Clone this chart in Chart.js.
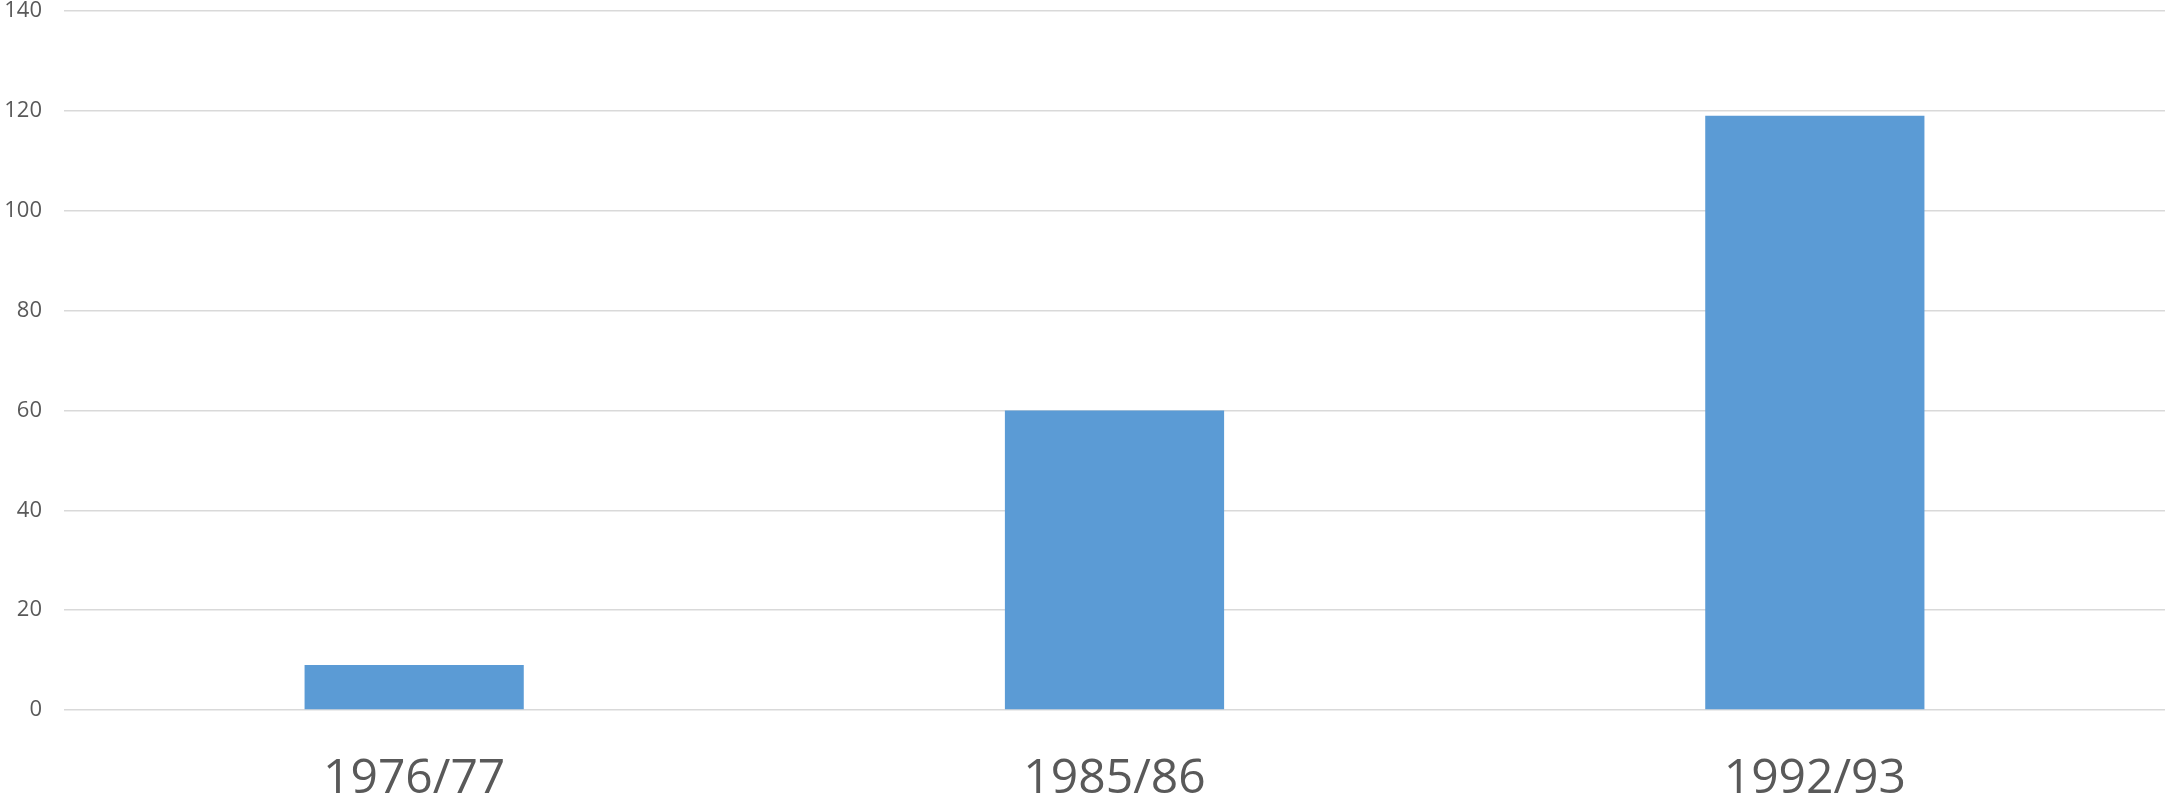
<!DOCTYPE html>
<html>
<head>
<meta charset="utf-8">
<script src="https://cdn.jsdelivr.net/npm/chart.js@4"></script>
<style>
  html, body { margin: 0; padding: 0; background: #fff; }
  #wrap { width: 2165px; height: 803px; }
</style>
</head>
<body>
<div id="wrap"><canvas id="chart1"></canvas></div>
<script>
var categories = ["1976/77", "1985/86", "1992/93"];
var values = [9, 60, 119];
var yTicks = [0, 20, 40, 60, 80, 100, 120, 140];

var chartCanvas1 = document.getElementById('chart1');
var configCanvas1 = {
    type: "bar",
    data: {
        labels: categories,
        datasets: [{
            label: "Series 1",
            data: values,
            backgroundColor: '#5B9BD5',
            borderWidth: 0,
            categoryPercentage: 1,
            barPercentage: 0.313
        }]
    },
    options: {
        responsive: true,
        maintainAspectRatio: false,
        animation: false,
        layout: { padding: 0 },
        plugins: {
            legend: { display: false },
            tooltip: { enabled: false }
        },
        scales: {
            x: {
                grid: { display: false, drawTicks: false },
                border: { display: false },
                ticks: {
                    color: '#595959',
                    font: { family: "'Open Sans', sans-serif", size: 48 },
                    padding: 41,
                    maxRotation: 0
                },
                afterFit: function (axis) { axis.height = 93; }
            },
            y: {
                min: 0,
                max: 140,
                afterBuildTicks: function (axis) {
                    axis.ticks = yTicks.map(function (v) { return { value: v }; });
                },
                grid: { color: '#d9d9d9', lineWidth: 1.5, drawTicks: false },
                border: { display: false },
                ticks: {
                    color: '#595959',
                    font: { family: "'Open Sans', sans-serif", size: 22 },
                    padding: 22
                },
                afterFit: function (axis) {
                    axis.width = 64;
                    axis.paddingTop = 11;
                    axis.paddingBottom = 0;
                }
            }
        }
    }
};

var myChart1 = new Chart(chartCanvas1, configCanvas1);
</script>
</body>
</html>
